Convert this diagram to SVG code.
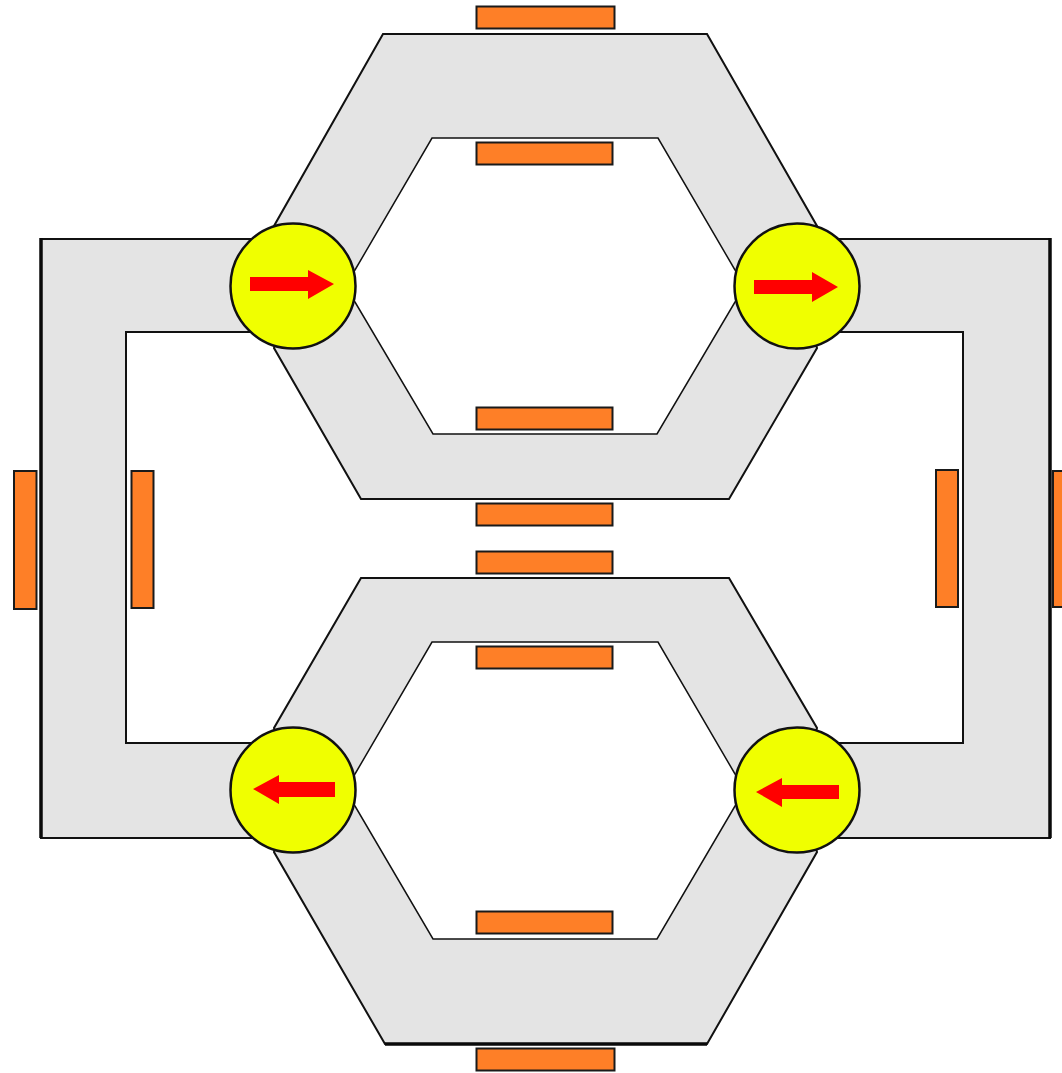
<svg xmlns="http://www.w3.org/2000/svg" width="1062" height="1073" viewBox="0 0 1062 1073">
<style>
.core{fill:#e4e4e4;stroke:#111;stroke-width:2;stroke-linejoin:miter}
.inner{fill:#fff;stroke:#111;stroke-width:1.500}
.edge{fill:none;stroke:#0a0a0a;stroke-width:3.500}
.coil{fill:#fe7f27;stroke:#1a1a1a;stroke-width:2}
.ball{fill:#f0ff00;stroke:#111;stroke-width:2.500}
.arrow{fill:#ff0000;stroke:none}
</style>
<rect width="1062" height="1073" fill="#fff"/>
<g id="connectors">
<path id="left-core" class="core" d="M292 239H41V838H292V743H126V332H292Z"/>
<path id="right-core" class="core" d="M796 239H1050V838H796V743H963V332H796Z"/>
<path id="top-core" class="core" d="M383 34H707L817 226L800 286L817 348L729 499H361L274 348L290 286L274 226Z"/>
<path id="top-window" class="inner" d="M432 138H658L735 270L750 286L735 302L657 434H433L355 302L340 286L355 270Z"/>
<path id="bottom-core" class="core" d="M361 578H729L817 728L800 790L817 852L707 1044H385L274 852L290 790L274 728Z"/>
<path id="bottom-window" class="inner" d="M432 642H658L735 774L750 790L735 806L657 939H433L355 806L340 790L355 774Z"/>
<path id="heavy-edges" class="edge" d="M41 238V838M1050 238V838M385 1044H707"/>
</g>
<g id="coil-top-outer"><rect class="coil" x="476.500" y="6.500" width="138" height="22"/></g>
<g id="coil-top-inner"><rect class="coil" x="476.500" y="142.500" width="136" height="22"/></g>
<g id="coil-top-lower"><rect class="coil" x="476.500" y="407.500" width="136" height="22"/></g>
<g id="coil-mid-upper"><rect class="coil" x="476.500" y="503.500" width="136" height="22"/></g>
<g id="coil-mid-lower"><rect class="coil" x="476.500" y="551.500" width="136" height="22"/></g>
<g id="coil-bottom-inner"><rect class="coil" x="476.500" y="646.500" width="136" height="22"/></g>
<g id="coil-bottom-lower"><rect class="coil" x="476.500" y="911.500" width="136" height="22"/></g>
<g id="coil-bottom-outer"><rect class="coil" x="476.500" y="1048.500" width="138" height="22"/></g>
<g id="coil-left-outer"><rect class="coil" x="14" y="471" width="22.500" height="138"/></g>
<g id="coil-left-inner"><rect class="coil" x="131.500" y="471" width="22" height="137"/></g>
<g id="coil-right-inner"><rect class="coil" x="936" y="470" width="22" height="137"/></g>
<g id="coil-right-outer"><rect class="coil" x="1053" y="471" width="12" height="136"/></g>
<g id="rotor-tl"><circle class="ball" cx="293" cy="286" r="62.500"/><path class="arrow" d="M250 277H308V270L334 284L308 299V291H250Z"/></g>
<g id="rotor-tr"><circle class="ball" cx="797" cy="286" r="62.500"/><path class="arrow" d="M754 280H812V272L838 287L812 302V294H754Z"/></g>
<g id="rotor-bl"><circle class="ball" cx="293" cy="790" r="62.500"/><path class="arrow" d="M335 782H279V775L253 789L279 804V797H335Z"/></g>
<g id="rotor-br"><circle class="ball" cx="797" cy="790" r="62.500"/><path class="arrow" d="M839 785H782V778L756 792L782 807V799H839Z"/></g>
</svg>
